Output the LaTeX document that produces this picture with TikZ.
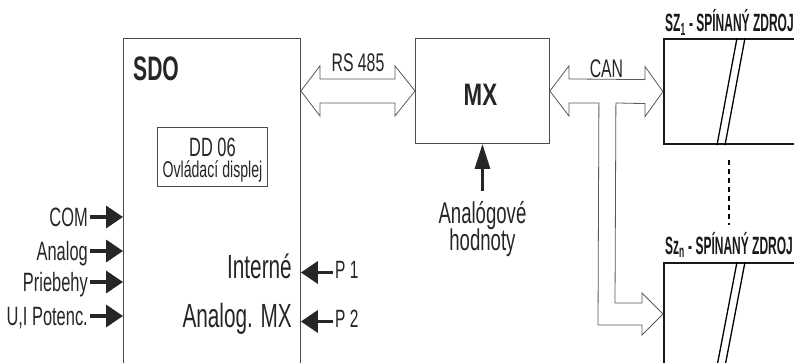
\documentclass[tikz,border=0pt]{standalone}
\usepackage{fontspec}
\setmainfont{Liberation Sans}[FakeStretch=0.62]
\newfontfamily\sirsi{Liberation Sans}[FakeStretch=0.72]
\newfontfamily\szfont{Liberation Sans}[FakeStretch=0.48]
\usetikzlibrary{calc,arrows.meta}

\begin{document}
\begin{tikzpicture}[x=1pt,y=-1pt,
			box/.style={draw=black!70,line width=0.9pt,inner sep=0pt,anchor=north west},
			zdroj/.style={draw=black!90,line width=2.2pt,inner sep=0pt,anchor=north west,minimum width=150pt,minimum height=105pt},
			pipe/.style={draw=black!65,line width=0.8pt,line join=miter},
			vstup/.style={draw=black!85,line width=3.6pt,-{Triangle[length=17pt,width=22pt]}},
			lbl/.style={inner sep=2pt,text=black!85,font=\fontsize{26.5}{29}\selectfont},
			velky/.style={inner sep=2pt,text=black!85,font=\fontsize{33.5}{36}\selectfont},
			nadpis/.style={inner sep=0pt,text=black!90,font=\szfont\bfseries\fontsize{25}{27}\selectfont}]
			\useasboundingbox (0,0) rectangle (794,363);
			\clip (0,0) rectangle (794,363);
			\node[box,minimum width=177pt,minimum height=345pt] (sdo) at (123,38) {};
			\node[anchor=base west,inner sep=0pt,text=black!85,font=\bfseries\fontsize{34}{36}\selectfont] (sdotxt) at ($(sdo.north west)+(10,43)$) {SDO};
			\node[box,minimum width=110pt,minimum height=59pt] (dd) at (157,127) {};
			\node[anchor=base,inner sep=0pt,text=black!85,font=\fontsize{26.5}{29}\selectfont] (ddtxt) at ($(dd.north)+(0,30)$) {DD 06};
			\node[anchor=base,inner sep=0pt,text=black!85,font=\fontsize{22.8}{25}\selectfont] (ddpopis) at ($(dd.north)+(0,51)$) {Ovládací displej};
			\node[box,minimum width=134pt,minimum height=105pt] (mx) at (415,38) {};
			\node[inner sep=0pt,text=black!85,font=\sirsi\bfseries\fontsize{31}{34}\selectfont] (mxtxt) at ($(mx.center)+(-2,4)$) {MX};
			\node[zdroj] (sz1) at (663,38) {};
			\node[zdroj,minimum height=120pt] (szn) at (663,262) {};
			\node[nadpis,anchor=base west] (sz1txt) at ($(sz1.north west)+(2,-6)$) {SZ\textsubscript{1} - SPÍNANÝ ZDROJ};
			\node[nadpis,anchor=base west] (szntxt) at ($(szn.north west)+(2,-8)$) {Sz\textsubscript{n} - SPÍNANÝ ZDROJ};
			\draw[line width=1.3pt] ($(sz1.north west)+(74,0)$) -- ($(sz1.south west)+(54,0)$);
			\draw[line width=1.3pt] ($(sz1.north west)+(82,0)$) -- ($(sz1.south west)+(62,0)$);
			\draw[line width=1.3pt] ($(szn.north west)+(74,0)$) -- ($(szn.north west)+(51,120)$);
			\draw[line width=1.3pt] ($(szn.north west)+(82,0)$) -- ($(szn.north west)+(59,120)$);
			\draw[line width=1.3pt,dash pattern=on 5pt off 4pt] ($(sz1.south west)+(66,15)$) -- ($(szn.north west)+(66,-37)$);
			\coordinate (rsA) at (sdo.east |- mx.west);
			\draw[pipe] (rsA) -- ++(19,-25) -- ++(0,13) -- ($(mx.west)+(-20,-12)$) -- ++(0,-13) -- (mx.west) -- ++(-20,25) -- ++(0,-13) -- ($(rsA)+(19,12)$) -- ++(0,13) -- cycle;
			\node[lbl,font=\fontsize{25.5}{28}\selectfont,anchor=base] (rs) at ($(rsA)!0.5!(mx.west)+(0,-19)$) {RS 485};
			\coordinate (canB) at ($(szn.north west)+(0,52)$);
			\draw[pipe] (mx.east) -- ++(19,-25) -- ++(0,13) -- ($(sz1.west)+(-18,-12)$) -- ++(0,-13) -- (sz1.west) -- ++(-18,25) -- ++(0,-13) -- ($(mx.east)+(66,12)$) -- ($(canB)+(-48,-11)$) -- ++(27,0) -- ++(0,-10) -- (canB) -- ++(-21,21) -- ++(0,-10) -- ($(canB)+(-65,11)$) -- ($(mx.east)+(49,12)$) -- ($(mx.east)+(19,12)$) -- ++(0,13) -- cycle;
			\node[lbl,font=\fontsize{25.5}{28}\selectfont,anchor=base] (can) at ($(mx.east)!0.5!(sz1.west)+(0,-14)$) {CAN};
			\coordinate (ain) at ($(mx.south)+(0,47)$);
			\draw[draw=black!85,line width=3pt,-{Triangle[length=25pt,width=15pt]}] (ain) -- (mx.south);
			\node[lbl,font=\fontsize{30}{32}\selectfont,anchor=base,inner sep=0pt] (hodn1) at ($(ain)+(0,33)$) {Analógové};
			\node[lbl,font=\fontsize{30}{32}\selectfont,anchor=base,inner sep=0pt] (hodn2) at ($(ain)+(0,60)$) {hodnoty};
			\node[lbl,anchor=base east] (com) at (90,226) {COM};
			\node[lbl,anchor=base east] (analog) at (90,260) {Analog};
			\node[lbl,anchor=base east] (prieb) at (90,291) {Priebehy};
			\node[lbl,anchor=base east] (poten) at (90,325) {U,I Potenc.};
			\draw[vstup] ($(com.base east)+(0,-9)$) -- ($(com.base east -| sdo.west)+(0,-9)$);
			\draw[vstup] ($(analog.base east)+(0,-9)$) -- ($(analog.base east -| sdo.west)+(0,-9)$);
			\draw[vstup] ($(prieb.base east)+(0,-9)$) -- ($(prieb.base east -| sdo.west)+(0,-9)$);
			\draw[vstup] ($(poten.base east)+(0,-9)$) -- ($(poten.base east -| sdo.west)+(0,-9)$);
			\node[lbl,font=\fontsize{25}{28}\selectfont,anchor=base west] (p1) at (333,278.5) {P 1};
			\node[lbl,font=\fontsize{25}{28}\selectfont,anchor=base west] (p2) at (333,327.5) {P 2};
			\draw[vstup] ($(p1.base west)+(0,-6)$) -- ($(p1.base west -| sdo.east)+(0,-6)$);
			\draw[vstup] ($(p2.base west)+(0,-6)$) -- ($(p2.base west -| sdo.east)+(0,-6)$);
			\node[velky,anchor=base east] (intern) at (294,278.5) {Interné};
			\node[velky,anchor=base east] (amx) at (294,327.5) {Analog. MX};
		\end{tikzpicture}
\end{document}
